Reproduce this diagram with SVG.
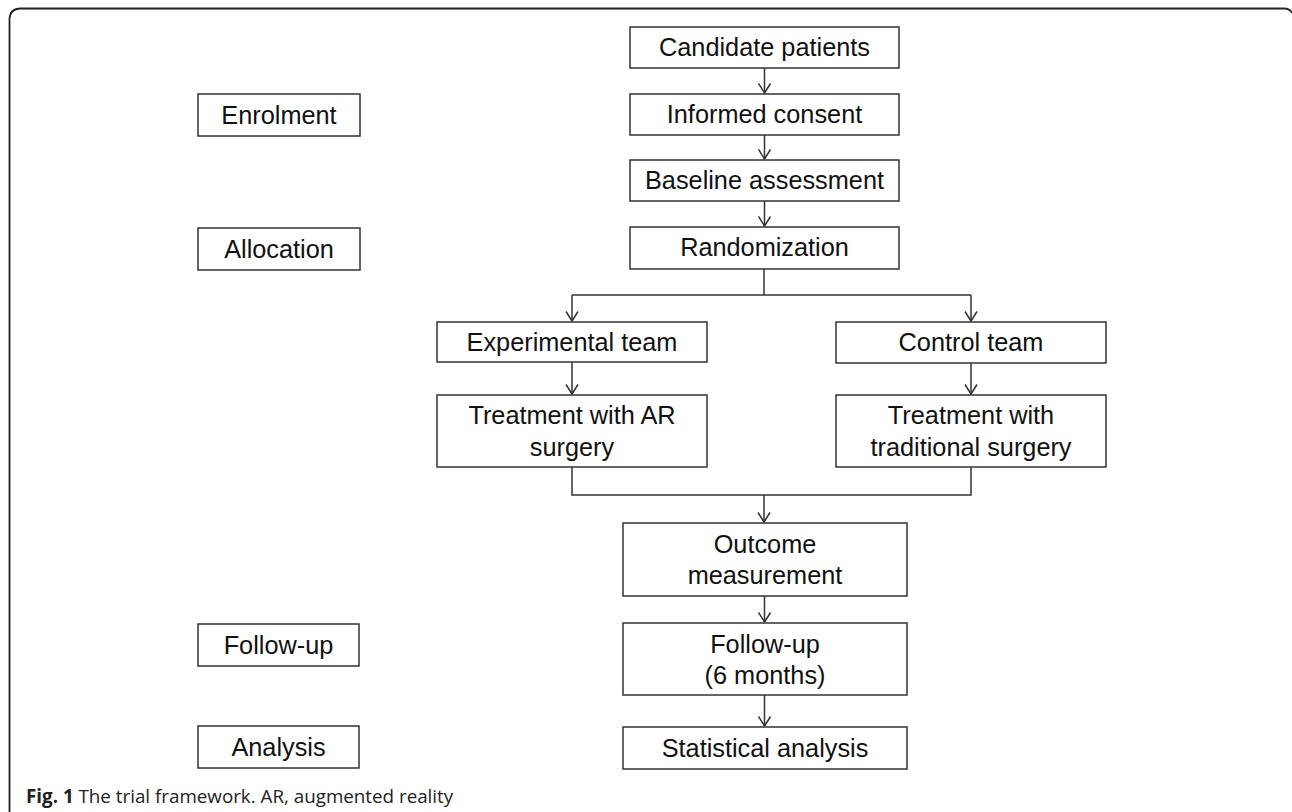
<svg xmlns="http://www.w3.org/2000/svg" width="1292" height="812" viewBox="0 0 1292 812">
<style>
.box{fill:#fff;stroke:#333;stroke-width:1.5}
.t{font-family:"Liberation Sans",Arial,sans-serif;font-size:25.3px;fill:#111;text-anchor:middle}
.ln{fill:none;stroke:#333;stroke-width:1.5}
.cap{font-family:"Open Sans","Noto Sans",sans-serif;font-size:18.8px;fill:#222}
</style>
<defs>
<marker id="arr" markerUnits="userSpaceOnUse" markerWidth="12" markerHeight="14" viewBox="0 0 12 14" refX="10.5" refY="7" orient="auto">
<path d="M1,1 L10.5,7 L1,13" fill="none" stroke="#333" stroke-width="1.5"/>
</marker>
</defs>
<rect width="1292" height="812" fill="#fff"/>
<path d="M9.5,812 V20 Q9.5,8.5 21,8.5 H1284 Q1290,8.5 1292,13" fill="none" stroke="#222" stroke-width="1.8"/>

<g id="connectors">
<path class="ln" d="M764.5,68 V93" marker-end="url(#arr)"/>
<path class="ln" d="M764.5,135 V159" marker-end="url(#arr)"/>
<path class="ln" d="M764.5,201 V226" marker-end="url(#arr)"/>
<path class="ln" d="M764,269 V295"/>
<path class="ln" d="M572,295 H971"/>
<path class="ln" d="M572,295 V321" marker-end="url(#arr)"/>
<path class="ln" d="M971,295 V321" marker-end="url(#arr)"/>
<path class="ln" d="M572,362 V394" marker-end="url(#arr)"/>
<path class="ln" d="M971,363 V394" marker-end="url(#arr)"/>
<path class="ln" d="M572,467 V495 H971 V467"/>
<path class="ln" d="M764,495 V522" marker-end="url(#arr)"/>
<path class="ln" d="M764.5,596 V622" marker-end="url(#arr)"/>
<path class="ln" d="M764.5,695 V726" marker-end="url(#arr)"/>
</g>

<g id="enrolment"><rect class="box" x="198" y="94" width="162" height="42"/><text class="t" x="279" y="124">Enrolment</text></g>
<g id="allocation"><rect class="box" x="198" y="228" width="162" height="42"/><text class="t" x="279" y="258">Allocation</text></g>
<g id="followup-label"><rect class="box" x="198" y="624" width="161" height="42"/><text class="t" x="278.5" y="654">Follow-up</text></g>
<g id="analysis-label"><rect class="box" x="198" y="726" width="161" height="42"/><text class="t" x="278.5" y="756">Analysis</text></g>

<g id="candidate"><rect class="box" x="630" y="27" width="269" height="41"/><text class="t" x="764.5" y="56">Candidate patients</text></g>
<g id="consent"><rect class="box" x="630" y="94" width="269" height="41"/><text class="t" x="764.5" y="123">Informed consent</text></g>
<g id="baseline"><rect class="box" x="630" y="160" width="269" height="41"/><text class="t" x="764.5" y="189">Baseline assessment</text></g>
<g id="randomization"><rect class="box" x="630" y="227" width="269" height="42"/><text class="t" x="764.5" y="256">Randomization</text></g>
<g id="experimental"><rect class="box" x="437" y="322" width="270" height="40"/><text class="t" x="572" y="351">Experimental team</text></g>
<g id="control"><rect class="box" x="836" y="322" width="270" height="41"/><text class="t" x="971" y="351">Control team</text></g>
<g id="treat-ar"><rect class="box" x="437" y="395" width="270" height="72"/><text class="t" x="572" y="424">Treatment with AR</text><text class="t" x="572" y="456">surgery</text></g>
<g id="treat-trad"><rect class="box" x="836" y="395" width="270" height="72"/><text class="t" x="971" y="424">Treatment with</text><text class="t" x="971" y="456">traditional surgery</text></g>
<g id="outcome"><rect class="box" x="623" y="523" width="284" height="73"/><text class="t" x="765" y="553">Outcome</text><text class="t" x="765" y="584">measurement</text></g>
<g id="followup"><rect class="box" x="623" y="623" width="284" height="72"/><text class="t" x="765" y="653">Follow-up</text><text class="t" x="765" y="684">(6 months)</text></g>
<g id="statistical"><rect class="box" x="623" y="727" width="284" height="42"/><text class="t" x="765" y="757">Statistical analysis</text></g>

<text class="cap" x="26" y="803"><tspan font-weight="bold">Fig. 1</tspan> The trial framework. AR, augmented reality</text>
</svg>
